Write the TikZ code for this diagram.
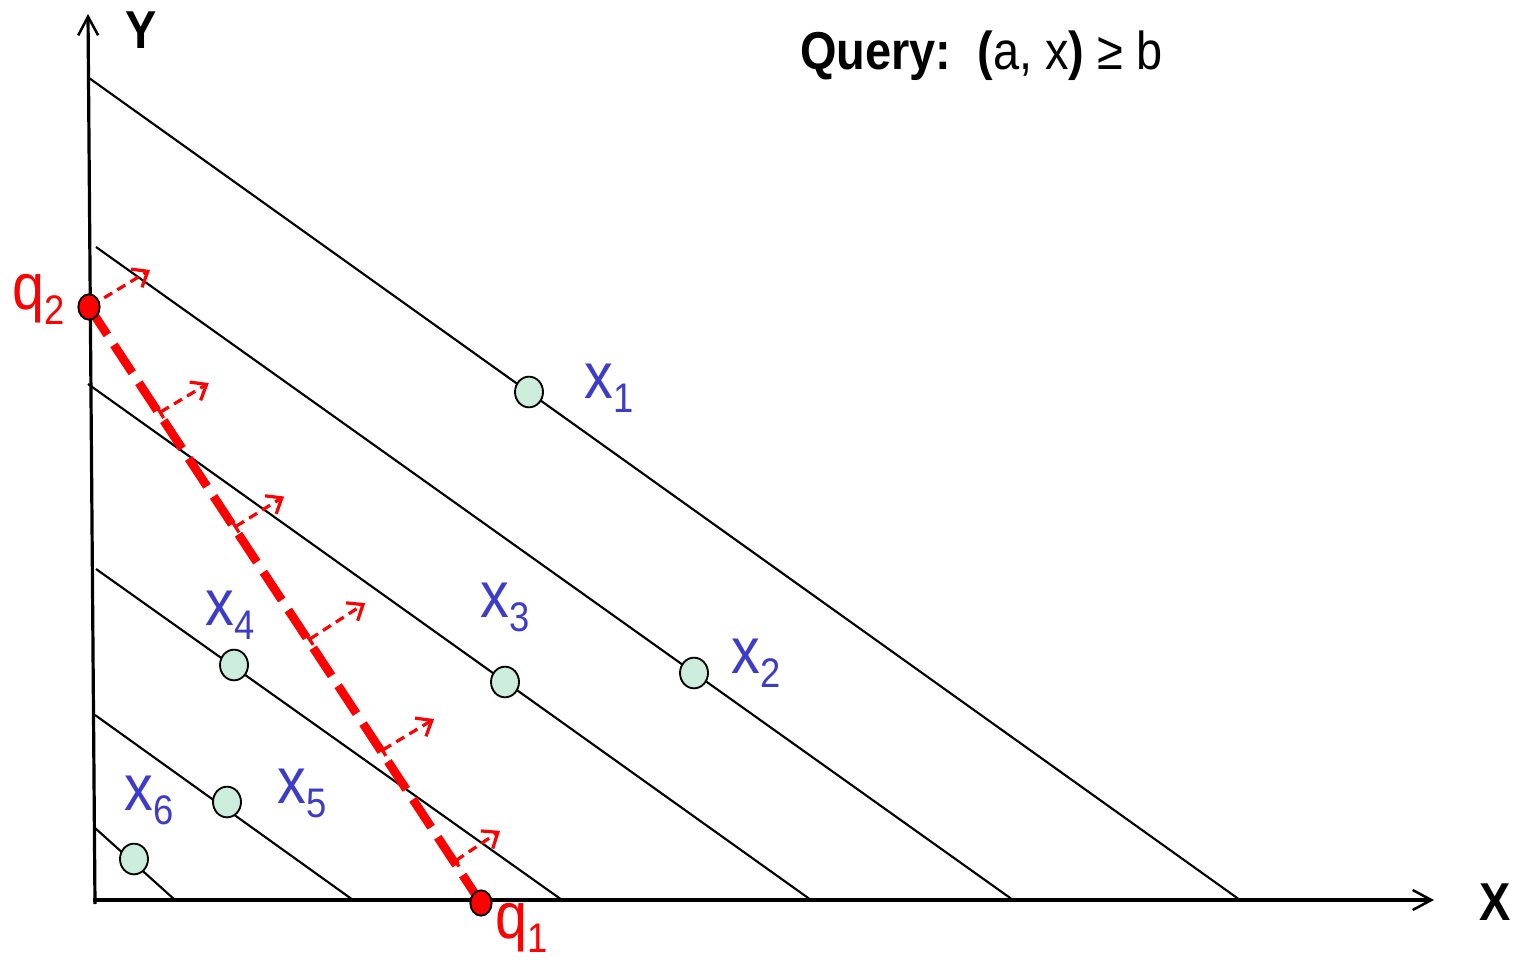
\documentclass[tikz,border=0pt]{standalone}
\usepackage{fontspec}
\setmainfont{Liberation Sans}[FakeStretch=0.88]
\usetikzlibrary{arrows.meta,shapes.geometric,calc}
\definecolor{lblue}{RGB}{60,60,200}
\definecolor{ptgreen}{RGB}{204,236,220}
\newcommand\sublab[2]{#1\raisebox{-11pt}{\fontsize{31}{31}\selectfont #2}}
\begin{document}
\begin{tikzpicture}[x=0.75pt,y=-0.75pt,
  axis/.style={line width=2.4pt,-{Straight Barb[length=14pt,width=15pt,line width=1.9pt]}},
  guide/.style={line width=1.6pt},
  datapt/.style={ellipse,draw,line width=1.4pt,fill=ptgreen,minimum width=21pt,minimum height=23pt,inner sep=0pt},
  qpt/.style={ellipse,draw,line width=1.4pt,fill=red,minimum width=16pt,minimum height=19pt,inner sep=0pt},
  lbl/.style={text=lblue,inner sep=0pt,anchor=base west,font=\fontsize{49}{49}\selectfont},
  qlbl/.style={text=red,inner sep=0pt,anchor=base west,font=\fontsize{49}{49}\selectfont},
  axlbl/.style={inner sep=0pt,anchor=base west,font=\fontsize{40}{40}\selectfont\bfseries},
  bigdash/.style={red,line width=6.5pt,dash pattern=on 25pt off 9pt},
  normarrow/.style={red,line width=2.4pt,dash pattern=on 7pt off 4.5pt,
    {Bar[width=10pt,line width=2.4pt]}-{Straight Barb[length=10pt,width=16pt,line width=2.4pt]}}
]
\useasboundingbox (0,0) rectangle (1513,962);

% axes
\coordinate (O) at (95,900);
\coordinate (ybot) at (95,904);
\coordinate (ytop) at (88,14);
\coordinate (xl) at (93,900);
\coordinate (xr) at (1434,900);
\draw[axis] (ybot) -- (ytop);
\draw[axis] (xl) -- (xr);
\node[axlbl] (ylab) at (125,49) {Y};
\node[axlbl] (xlab) at (1479,920) {X};

% level lines
\coordinate (l1a) at (89,78);   \coordinate (l1b) at (1240,900);
\coordinate (l2a) at (96,247);  \coordinate (l2b) at (1013,900);
\coordinate (l3a) at (88,384);  \coordinate (l3b) at (811,900);
\coordinate (l4a) at (96,569);  \coordinate (l4b) at (562,900);
\coordinate (l5a) at (95,715);  \coordinate (l5b) at (353,900);
\coordinate (l6a) at (95,828);  \coordinate (l6b) at (175,900);
\draw[guide] (l1a) -- (l1b);
\draw[guide] (l2a) -- (l2b);
\draw[guide] (l3a) -- (l3b);
\draw[guide] (l4a) -- (l4b);
\draw[guide] (l5a) -- (l5b);
\draw[guide] (l6a) -- (l6b);

% query segment
\coordinate (cq2) at (89,307);
\coordinate (cq1) at (481,903);
\draw[bigdash] (cq2) -- (cq1);

% normal arrows
\coordinate (n1) at (cq2);
\coordinate (n2) at ($(cq2)!0.178!(cq1)$);
\coordinate (n3) at ($(cq2)!0.37!(cq1)$);
\coordinate (n4) at ($(cq2)!0.559!(cq1)$);
\coordinate (n5) at ($(cq2)!0.745!(cq1)$);
\coordinate (n6) at ($(cq2)!0.931!(cq1)$);
\draw[normarrow] (n1) -- ++(61,-37);
\draw[normarrow] (n2) -- ++(50,-30);
\draw[normarrow] (n3) -- ++(50,-31);
\draw[normarrow] (n4) -- ++(57,-37);
\draw[normarrow] (n5) -- ++(53,-32);
\draw[normarrow] (n6) -- ++(46,-31);

% data points
\node[datapt] (x1) at (529,392) {};
\node[datapt] (x2) at (694,673) {};
\node[datapt] (x3) at (505,682) {};
\node[datapt] (x4) at (234,665) {};
\node[datapt] (x5) at (227,802) {};
\node[datapt] (x6) at (134,859) {};

\node[lbl] (lx1) at (584,398) {\sublab{x}{1}};
\node[lbl] (lx2) at (731,673) {\sublab{x}{2}};
\node[lbl] (lx3) at (480,617) {\sublab{x}{3}};
\node[lbl] (lx4) at (205,625) {\sublab{x}{4}};
\node[lbl] (lx5) at (277,803) {\sublab{x}{5}};
\node[lbl] (lx6) at (124,810) {\sublab{x}{6}};

% query endpoints
\node[qpt] (q2) at (cq2) {};
\node[qpt] (q1) at (cq1) {};
\node[qlbl] (lq2) at (12,310) {\sublab{q}{2}};
\node[qlbl] (lq1) at (495,938) {\sublab{q}{1}};

% query text
\node[inner sep=0pt,anchor=base west,font=\fontsize{40}{40}\selectfont] (query) at (800,70)
  {\textbf{Query:}\ \ \textbf{(}a, x\textbf{)} ≥ b};
\end{tikzpicture}
\end{document}
